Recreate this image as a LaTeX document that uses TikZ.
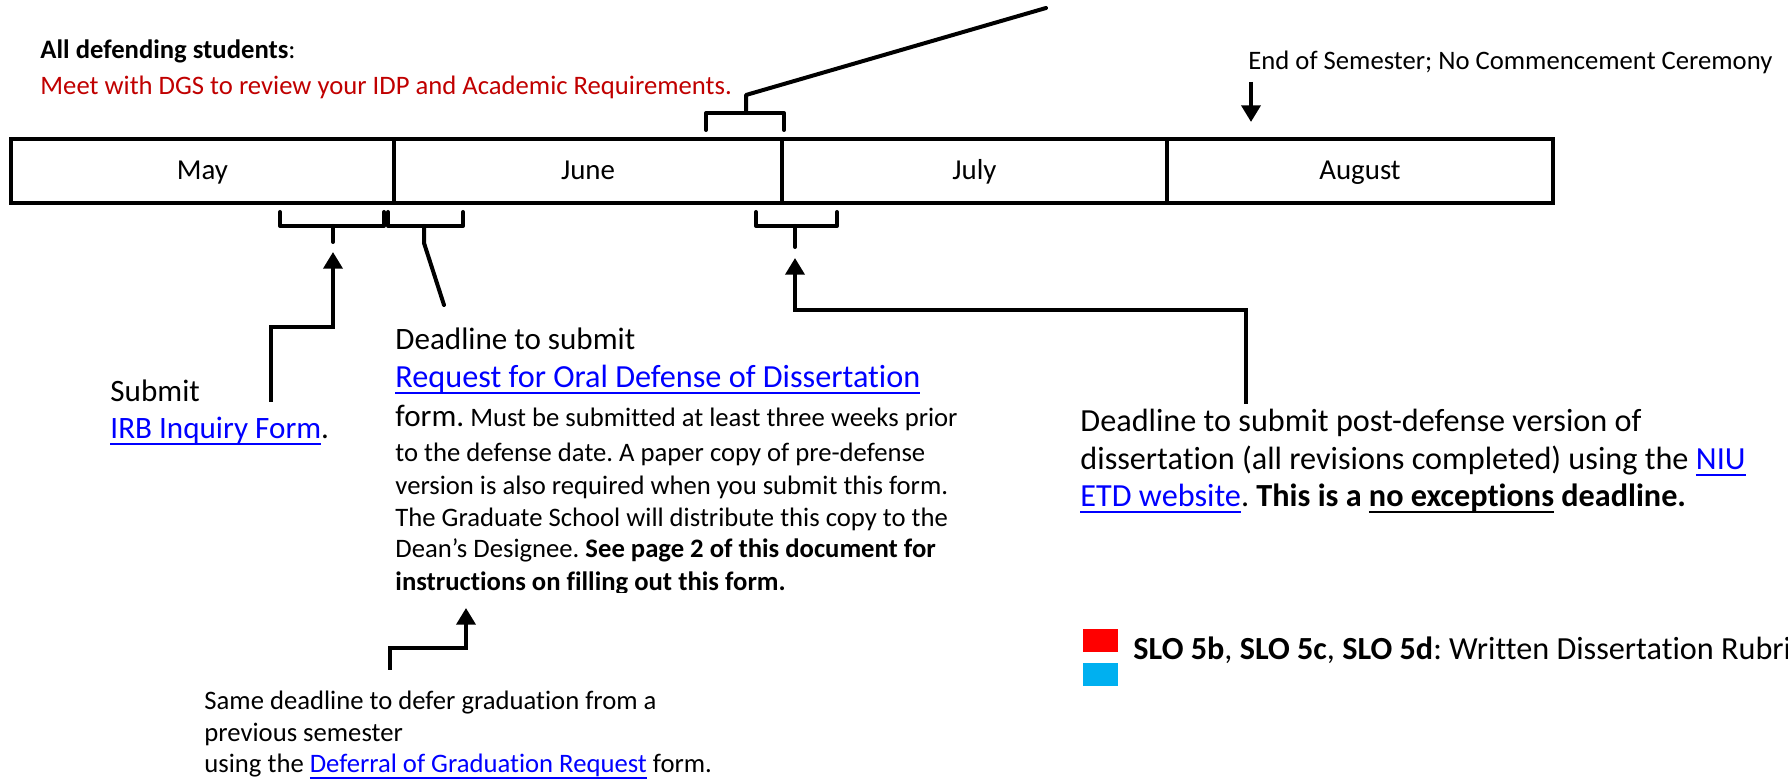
\documentclass[tikz,border=0pt]{standalone}
\usepackage{fontspec}
\setmainfont{Carlito}[Ligatures=NoCommon]
\usetikzlibrary{arrows.meta,fit}
\definecolor{linkblue}{RGB}{0,0,255}
\definecolor{darkred}{RGB}{192,0,0}
\definecolor{slored}{RGB}{255,0,0}
\definecolor{slocyan}{RGB}{0,176,240}
\newcommand\myul[1]{\setbox0\hbox{#1}\rlap{\rule[-2.5pt]{\wd0}{0.9pt}}\box0\relax}
\frenchspacing
\begin{document}
\begin{tikzpicture}[x=0.45pt,y=-0.45pt,
  txt/.style={anchor=base west, inner sep=0pt, font=\fontsize{12}{14}\selectfont},
  big/.style={anchor=base west, inner sep=0pt, font=\fontsize{14}{17}\selectfont},
  bigger/.style={anchor=base west, inner sep=0pt, font=\fontsize{14.5}{17}\selectfont},
  month/.style={anchor=base, inner sep=0pt, font=\fontsize{13}{15}\selectfont},
  cell/.style={draw, line width=1.8pt, inner sep=0pt},
  conn/.style={line width=1.8pt, line cap=round, line join=round},
  arr/.style={line width=1.8pt, line join=miter, -{Triangle[width=8.5pt,length=7.5pt]}},
]
\useasboundingbox (0,0) rectangle (1788,781);

% timeline cells
\node[cell, fit={(11,139)(394,203)}] (may) {};
\node[cell, fit={(394,139)(782,203)}] (june) {};
\node[cell, fit={(782,139)(1167,203)}] (july) {};
\node[cell, fit={(1167,139)(1553,203)}] (aug) {};
\node[month] (mayl) at (202.5,180) {May};
\node[month] (junel) at (588,180) {June};
\node[month] (julyl) at (974.5,180) {July};
\node[month] (augl) at (1360,180) {August};

% top texts
\node[txt] (alldef) at (40,59) {\textbf{All defending students}:};
\node[txt, text=darkred] (meet) at (40,95) {Meet with DGS to review your IDP and Academic Requirements.};
\node[txt] (endsem) at (1248,70) {End of Semester; No Commencement Ceremony};

% top bracket and line
\coordinate (topend) at (1046,8);
\coordinate (topjoin) at (746,95);
\coordinate (topmid) at (746,113);
\coordinate (tbl) at (706,113);
\coordinate (tbr) at (784,113);
\draw[conn] (topend) -- (topjoin) -- (topmid);
\draw[conn] ([yshift=-7.65pt]tbl) -- (tbl) -- (tbr) -- ([yshift=-7.65pt]tbr);

% end of semester arrow
\coordinate (esa) at (1251,82);
\coordinate (esb) at (1251,122);
\draw[arr] (esa) -- (esb);

% lower brackets
\coordinate (bAl) at (280,226); \coordinate (bAr) at (384,226); \coordinate (bAm) at (333,226);
\coordinate (bBl) at (388,226); \coordinate (bBr) at (463,226); \coordinate (bBm) at (424,226);
\coordinate (bCl) at (756,226); \coordinate (bCr) at (837,226); \coordinate (bCm) at (795,226);
\draw[conn] ([yshift=6.3pt]bAl) -- (bAl) -- (bAr) -- ([yshift=6.3pt]bAr);
\draw[conn] ([yshift=6.3pt]bBl) -- (bBl) -- (bBr) -- ([yshift=6.3pt]bBr);
\draw[conn] ([yshift=6.3pt]bCl) -- (bCl) -- (bCr) -- ([yshift=6.3pt]bCr);
\draw[conn] (bAm) -- (333,242);
\coordinate (diagend) at (444,305);
\draw[conn] (bBm) -- (424,243) -- (diagend);
\draw[conn] (bCm) -- (795,247);

% IRB text and arrow
\node[big] (submit) at (110,402) {Submit};
\node[big] (irb) at (110,439) {\textcolor{linkblue}{\myul{IRB Inquiry Form}}.};
\coordinate (irbs) at (271,402);
\coordinate (irbt) at (333,252);
\draw[arr] (irbs) -- (271,327) -- (333,327) -- (irbt);

% oral defense text
\node[big] (od1) at (395,350) {Deadline to submit};
\node[bigger, text=linkblue] (od2) at (395,388) {\myul{Request for Oral Defense of Dissertation}};
\node[big] (od3) at (395,427) {form.\fontsize{12}{14}\selectfont{} Must be submitted at least three weeks prior};
\node[txt] (od4) at (395,462) {to the defense date. A paper copy of pre-defense};
\node[txt] (od5) at (395,495) {version is also required when you submit this form.};
\node[txt] (od6) at (395,527) {The Graduate School will distribute this copy to the};
\node[txt] (od7) at (395,558) {Dean’s Designee. \textbf{See page 2 of this document for}};
\begin{scope}
\clip (380,560) rectangle (1000,593);
\node[txt] (od8) at (395,591) {\textbf{instructions on filling out this form.}};
\end{scope}

% deferral arrow and text
\coordinate (defs) at (390,670);
\coordinate (deft) at (466,608);
\draw[arr] (defs) -- (390,648) -- (466,648) -- (deft);
\node[txt] (df1) at (204,710) {Same deadline to defer graduation from a};
\node[txt] (df2) at (204,742) {previous semester};
\node[txt] (df3) at (204,773) {using the \textcolor{linkblue}{\myul{Deferral of Graduation Request}} form.};

% post-defense arrow and text
\coordinate (pds) at (1246,404);
\coordinate (pdt) at (795,258);
\draw[arr] (pds) -- (1246,310) -- (795,310) -- (pdt);
\node[bigger] (pd1) at (1080,432) {Deadline to submit post-defense version of};
\node[bigger] (pd2) at (1080,470) {dissertation (all revisions completed) using the \textcolor{linkblue}{\myul{NIU}}};
\node[bigger] (pd3) at (1080,507) {\textcolor{linkblue}{\myul{ETD website}}. \textbf{This is a \myul{no exceptions} deadline.}};

% SLO legend
\fill[slored] (1083,629) rectangle (1118,652);
\fill[slocyan] (1083,663) rectangle (1118,686);
\node[bigger] (slo) at (1133,660) {\textbf{SLO 5b}, \textbf{SLO 5c}, \textbf{SLO 5d}: Written Dissertation Rubric};
\end{tikzpicture}
\end{document}
